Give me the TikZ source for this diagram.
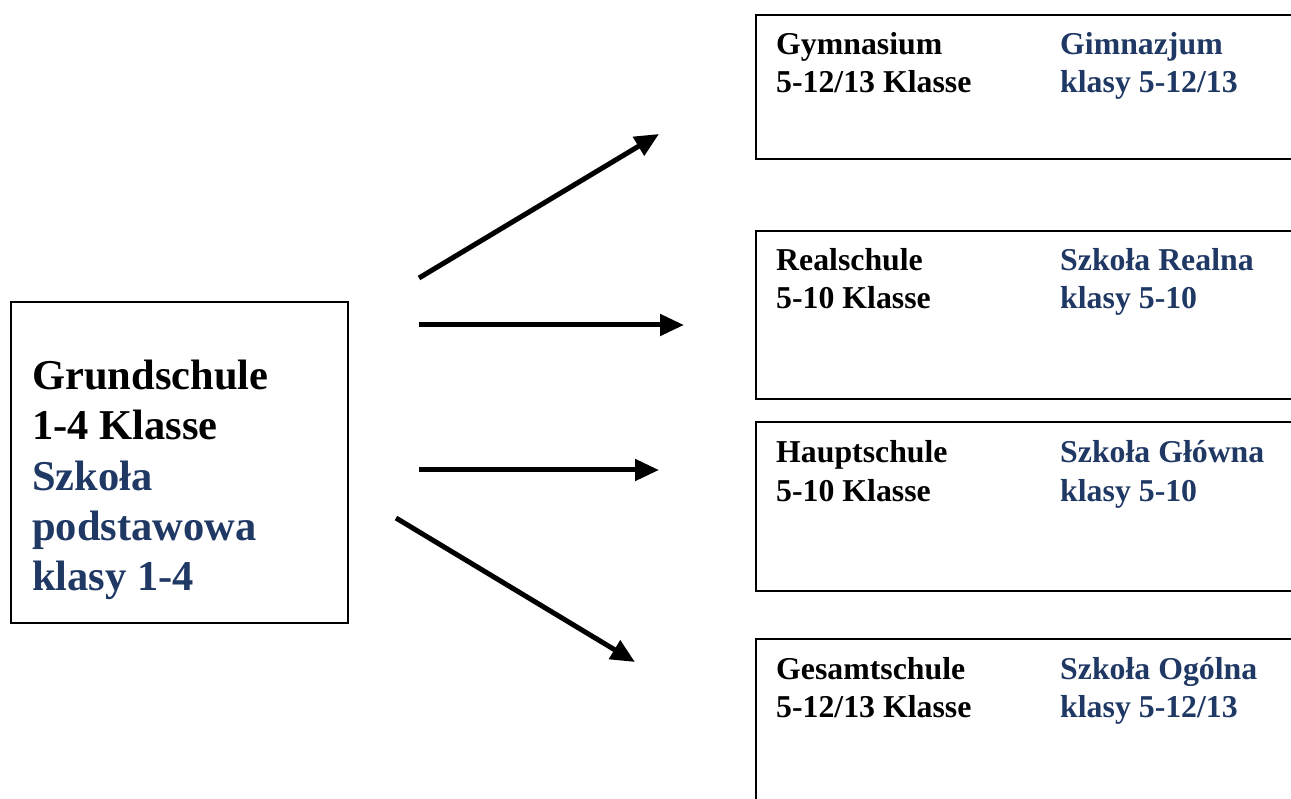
\documentclass[tikz,border=0pt]{standalone}
\usepackage{fontspec}
\setmainfont{Liberation Serif}
\usetikzlibrary{arrows.meta}
\definecolor{plblue}{RGB}{31,56,100}
\tikzset{
  box/.style={draw=black, line width=2pt, fill=none, inner sep=0pt, anchor=north west},
  rbox/.style={box, minimum width=560pt},
  big/.style={anchor=base west, inner sep=0pt, font=\fontsize{42.5}{50}\selectfont\bfseries},
  small/.style={anchor=base west, inner sep=0pt, font=\fontsize{31.8}{38}\selectfont\bfseries},
  de/.style={text=black},
  pl/.style={text=plblue},
  conn/.style={line width=5pt, -{Triangle[length=24pt,width=21pt]}},
}
\begin{document}
\begin{tikzpicture}[x=1pt,y=-1pt]
\clip (0,0) rectangle (1291,799);
\fill[white] (0,0) rectangle (1291,799);
% left box
\node[box, minimum width=337pt, minimum height=321pt] (gs) at (10,301) {};
\node[big,de] (gs1) at (32,390) {Grundschule};
\node[big,de] (gs2) at (32,440) {1-4 Klasse};
\node[big,pl] (gs3) at (32,490) {Szkoła};
\node[big,pl] (gs4) at (32,540) {podstawowa};
\node[big,pl] (gs5) at (32,590) {klasy 1-4};
% right boxes
\node[rbox, minimum height=144pt] (gym) at (755,14) {};
\node[small,de] (gym1) at (776,55) {Gymnasium};
\node[small,de] (gym2) at (776,93) {5-12/13 Klasse};
\node[small,pl] (gym3) at (1060,55) {Gimnazjum};
\node[small,pl] (gym4) at (1060,93) {klasy 5-12/13};

\node[rbox, minimum height=168pt] (rs) at (755,230) {};
\node[small,de] (rs1) at (776,271) {Realschule};
\node[small,de] (rs2) at (776,309) {5-10 Klasse};
\node[small,pl] (rs3) at (1060,271) {Szkoła Realna};
\node[small,pl] (rs4) at (1060,309) {klasy 5-10};

\node[rbox, minimum height=169pt] (hs) at (755,421) {};
\node[small,de] (hs1) at (776,463) {Hauptschule};
\node[small,de] (hs2) at (776,501) {5-10 Klasse};
\node[small,pl] (hs3) at (1060,463) {Szkoła Główna};
\node[small,pl] (hs4) at (1060,501) {klasy 5-10};

\node[rbox, minimum height=200pt] (ges) at (755,638) {};
\node[small,de] (ges1) at (776,679) {Gesamtschule};
\node[small,de] (ges2) at (776,717) {5-12/13 Klasse};
\node[small,pl] (ges3) at (1060,679) {Szkoła Ogólna};
\node[small,pl] (ges4) at (1060,717) {klasy 5-12/13};

% arrows
\coordinate (a1s) at (419,278);
\coordinate (a1e) at (659,134);
\coordinate (a2s) at (419,325);
\coordinate (a2e) at (684,325);
\coordinate (a3s) at (419,470);
\coordinate (a3e) at (659,470);
\coordinate (a4s) at (396,518);
\coordinate (a4e) at (635,662);
\draw[conn] (a1s) -- (a1e);
\draw[conn] (a2s) -- (a2e);
\draw[conn] (a3s) -- (a3e);
\draw[conn] (a4s) -- (a4e);
\end{tikzpicture}
\end{document}
